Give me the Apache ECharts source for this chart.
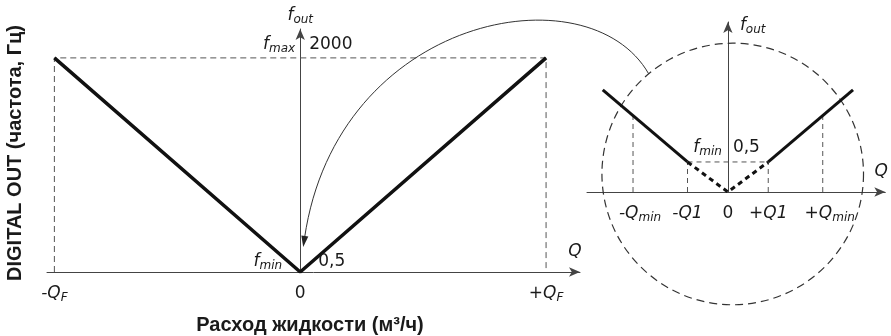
<!DOCTYPE html>
<html>
<head>
<meta charset="utf-8">
<script src="https://cdn.jsdelivr.net/npm/echarts@6/dist/echarts.min.js"></script>
<style>
  html, body { margin: 0; padding: 0; background: #fff; }
  #chart { width: 891px; height: 336px; }
</style>
</head>
<body>
<div id="chart"></div>
<script>
// ---- Main characteristic: output frequency vs. flow (V shape) ----
const mainQ = [-1, 0, 1];                 // -Q_F, 0, +Q_F (relative flow)
const mainF = [2000, 0.5, 2000];          // f_max, f_min, f_max (Hz)
const mainTickQ = [-1, 0, 1];
const mainTickLabels = ['-Q_F', '0', '+Q_F'];
const F_MAX = 2000;
const F_MIN = 0.5;

// ---- Enlarged view around zero flow ----
const zoomLeftQ = [-3.1, -1];
const zoomLeftF = [1.7, 0.5];
const zoomRightQ = [1, 3.1];
const zoomRightF = [0.5, 1.7];
const zoomCutQ = [-1, 0, 1];              // cut-off region (output forced to zero)
const zoomCutF = [0.5, 0, 0.5];
const zoomTickQ = [-2.35, -1, 0, 1, 2.35];
const zoomTickLabels = ['-Q_min', '-Q1', '0', '+Q1', '+Q_min'];
const zoomGuideF = [1.27, 0.5, 0, 0.5, 1.27]; // guide height above each tick
const ZOOM_FMIN = 0.5;

const FONT = 'DejaVu Sans';
const INK = '#1a1a1a';
const AXIS = '#444';
const GUIDE = '#555';

// rich text: "Q_F" -> italic Q with subscript F, numbers upright
function richLabel(s, lead) {
  if (/^[0-9,]+$/.test(s)) return '{n|' + s + '}';
  const parts = s.split('_');
  const pre = lead ? '{gap|}' : '';
  return pre + (parts.length > 1 ? '{q|' + parts[0] + '}{s|' + parts[1] + '}' : '{q|' + s + '}');
}
const richStyles = {
  n: { fontFamily: FONT, fontSize: 17, color: INK, lineHeight: 20 },
  q: { fontFamily: FONT, fontSize: 17, fontStyle: 'italic', color: INK, lineHeight: 20 },
  s: { fontFamily: FONT, fontSize: 12, fontStyle: 'italic', color: INK, lineHeight: 12, padding: [8, 0, 0, 0] },
  gap: { width: 14 }
};

function pairs(xs, ys) { return xs.map((x, i) => [x, ys[i]]); }

const guideMain = [
  { coords: [[mainQ[0], 0], [mainQ[0], F_MAX], [mainQ[2], F_MAX], [mainQ[2], 0]] }
];
const guideZoom = [];
zoomTickQ.forEach((q, i) => {
  if (zoomGuideF[i] > 0) guideZoom.push({ coords: [[q, 0], [q, zoomGuideF[i]]] });
});
guideZoom.push({ coords: [[zoomCutQ[0], ZOOM_FMIN], [zoomCutQ[2], ZOOM_FMIN]] });

// dashed "magnifier" circle around the enlarged view
const LENS = { cx: 0.12, cy: 0.3, r: 3.24 };

const chart = echarts.init(document.getElementById('chart'), null, { renderer: 'canvas' });

const arrowAxis = (size) => ({
  show: true,
  onZero: true,
  symbol: ['none', 'arrow'],
  symbolSize: size,
  lineStyle: { color: AXIS, width: 1 }
});

const annotLabel = { show: true, rich: richStyles, color: INK, opacity: 1 };

chart.setOption({
  animation: false,
  backgroundColor: '#fff',
  grid: [
    { left: 47, right: 311, top: 29, bottom: 64 },
    { left: 587, right: 1, top: 22, bottom: 144 }
  ],
  xAxis: [
    {
      type: 'value', gridIndex: 0, min: -1.03, max: 1.138,
      axisLine: arrowAxis([7, 11]),
      axisTick: { show: false },
      splitLine: { show: false },
      axisLabel: {
        customValues: mainTickQ,
        margin: 12,
        formatter: (v) => richLabel(mainTickLabels[mainTickQ.indexOf(v)] || ''),
        rich: richStyles
      },
      name: 'Q', nameLocation: 'end', nameGap: -5,
      nameTextStyle: { fontFamily: FONT, fontSize: 17, fontStyle: 'italic', color: INK,
        align: 'center', verticalAlign: 'bottom', padding: [0, 0, 12, 0] }
    },
    {
      type: 'value', gridIndex: 1, min: -3.49, max: 3.9,
      axisLine: arrowAxis([7, 11]),
      axisTick: { show: false },
      splitLine: { show: false },
      axisLabel: {
        customValues: zoomTickQ,
        margin: 12,
        formatter: (v) => {
          const i = zoomTickQ.indexOf(v);
          return richLabel(zoomTickLabels[i] || '', Math.abs(v) > 2);
        },
        rich: richStyles
      },
      name: 'Q', nameLocation: 'end', nameGap: -4,
      nameTextStyle: { fontFamily: FONT, fontSize: 17, fontStyle: 'italic', color: INK,
        align: 'center', verticalAlign: 'bottom', padding: [0, 0, 12, 0] }
    }
  ],
  yAxis: [
    {
      type: 'value', gridIndex: 0, min: 0, max: 2270,
      axisLine: arrowAxis([7, 11]),
      axisTick: { show: false },
      axisLabel: { show: false },
      splitLine: { show: false },
      name: '{q|f}{s|out}', nameLocation: 'end', nameGap: 3,
      nameTextStyle: { rich: richStyles, align: 'center', verticalAlign: 'bottom' }
    },
    {
      type: 'value', gridIndex: 1, min: 0, max: 2.83,
      axisLine: arrowAxis([7, 11]),
      axisTick: { show: false },
      axisLabel: { show: false },
      splitLine: { show: false },
      name: '{q|f}{s|out}', nameLocation: 'end', nameGap: 6,
      nameTextStyle: { rich: richStyles, align: 'left', verticalAlign: 'top', padding: [0, 0, 0, 12] }
    }
  ],
  series: [
    // guide lines of the main plot
    {
      type: 'lines', coordinateSystem: 'cartesian2d', xAxisIndex: 0, yAxisIndex: 0,
      polyline: true, clip: false, silent: true,
      lineStyle: { color: GUIDE, width: 1, type: [6, 4], opacity: 1 },
      data: guideMain, z: 1
    },
    // main characteristic
    {
      type: 'line', xAxisIndex: 0, yAxisIndex: 0, symbol: 'none',
      lineStyle: { color: '#111', width: 3.5 },
      data: pairs(mainQ, mainF), z: 3
    },
    // value annotations of the main plot
    {
      type: 'scatter', xAxisIndex: 0, yAxisIndex: 0, symbolSize: 0, silent: true, z: 4,
      itemStyle: { opacity: 1 },
      label: annotLabel,
      data: [
        { value: [0, F_MAX], label: { position: 'left', distance: 5, offset: [0, -13], formatter: '{q|f}{s|max}' } },
        { value: [0, F_MAX], label: { position: 'right', distance: 9, offset: [0, -13], formatter: '{n|' + F_MAX + '}' } },
        { value: [0, F_MIN], label: { position: 'left', distance: 18, offset: [0, -10], formatter: '{q|f}{s|min}' } },
        { value: [0, F_MIN], label: { position: 'right', distance: 18, offset: [0, -10], formatter: '{n|0,5}' } }
      ]
    },
    // guide lines of the enlarged view
    {
      type: 'lines', coordinateSystem: 'cartesian2d', xAxisIndex: 1, yAxisIndex: 1,
      polyline: true, clip: false, silent: true,
      lineStyle: { color: GUIDE, width: 1, type: [5, 4], opacity: 1 },
      data: guideZoom, z: 1
    },
    {
      type: 'line', xAxisIndex: 1, yAxisIndex: 1, symbol: 'none',
      lineStyle: { color: '#111', width: 3 }, data: pairs(zoomLeftQ, zoomLeftF), z: 3
    },
    {
      type: 'line', xAxisIndex: 1, yAxisIndex: 1, symbol: 'none',
      lineStyle: { color: '#111', width: 3 }, data: pairs(zoomRightQ, zoomRightF), z: 3
    },
    {
      type: 'line', xAxisIndex: 1, yAxisIndex: 1, symbol: 'none',
      lineStyle: { color: '#111', width: 3, type: [5, 4] }, data: pairs(zoomCutQ, zoomCutF), z: 3
    },
    {
      type: 'scatter', xAxisIndex: 1, yAxisIndex: 1, symbolSize: 0, silent: true, z: 4,
      itemStyle: { opacity: 1 },
      label: annotLabel,
      data: [
        { value: [0, ZOOM_FMIN], label: { position: 'left', distance: 6, offset: [0, -14], formatter: '{q|f}{s|min}' } },
        { value: [0, ZOOM_FMIN], label: { position: 'right', distance: 5, offset: [0, -14], formatter: '{n|0,5}' } }
      ]
    },
    // magnifier circle
    {
      type: 'custom', xAxisIndex: 1, yAxisIndex: 1, clip: false, silent: true, z: 2,
      data: [[LENS.cx, LENS.cy, LENS.r]],
      renderItem: (params, api) => {
        const c = api.coord([api.value(0), api.value(1)]);
        const r = api.size([api.value(2), 0])[0];
        return {
          type: 'circle',
          shape: { cx: c[0], cy: c[1], r: r },
          style: { fill: 'none', stroke: '#333', lineWidth: 1.2, lineDash: [8, 5] }
        };
      }
    }
  ]
});

// titles and the curved pointer from the magnifier to the origin of the main plot
(function () {
  const c = chart.convertToPixel({ gridIndex: 1 }, [LENS.cx, LENS.cy]);
  const e = chart.convertToPixel({ gridIndex: 1 }, [LENS.cx + LENS.r, LENS.cy]);
  const r = e[0] - c[0];
  const a = -130 * Math.PI / 180;
  const p0 = [c[0] + r * Math.cos(a), c[1] + r * Math.sin(a)];
  const o = chart.convertToPixel({ gridIndex: 0 }, [0, F_MIN]);
  const p3 = [o[0] + 3, o[1] - 25];
  const p1 = [p0[0] - 60, p0[1] - 105];
  const p2 = [p3[0] + 34, p3[1] - 232];
  const dx = p3[0] - p2[0], dy = p3[1] - p2[1];
  const len = Math.hypot(dx, dy);
  const ux = dx / len, uy = dy / len;
  const L = 11, W = 3.5;
  const bx = p3[0] - ux * L, by = p3[1] - uy * L;
  chart.setOption({
    graphic: [
      {
        id: 'xTitle', type: 'text', x: 310, y: 325, silent: true,
        style: { text: 'Расход жидкости (м³/ч)', font: 'bold 20px "Liberation Sans"', fill: INK,
          align: 'center', verticalAlign: 'middle' }
      },
      {
        id: 'yTitle', type: 'text', x: 15, y: 153, rotation: Math.PI / 2, silent: true,
        style: { text: 'DIGITAL OUT (частота, Гц)', font: 'bold 20px "Liberation Sans"', fill: INK,
          align: 'center', verticalAlign: 'middle' }
      },
      {
        id: 'pointer', type: 'bezierCurve', silent: true, z: 5,
        shape: { x1: p0[0], y1: p0[1], cpx1: p1[0], cpy1: p1[1], cpx2: p2[0], cpy2: p2[1],
          x2: bx + ux * 2, y2: by + uy * 2 },
        style: { stroke: '#333', lineWidth: 1, fill: null }
      },
      {
        id: 'pointerHead', type: 'polygon', silent: true, z: 5,
        shape: { points: [[p3[0], p3[1]], [bx - uy * W, by + ux * W], [bx + uy * W, by - ux * W]] },
        style: { fill: '#222', stroke: null }
      }
    ]
  });
})();
</script>
</body>
</html>
